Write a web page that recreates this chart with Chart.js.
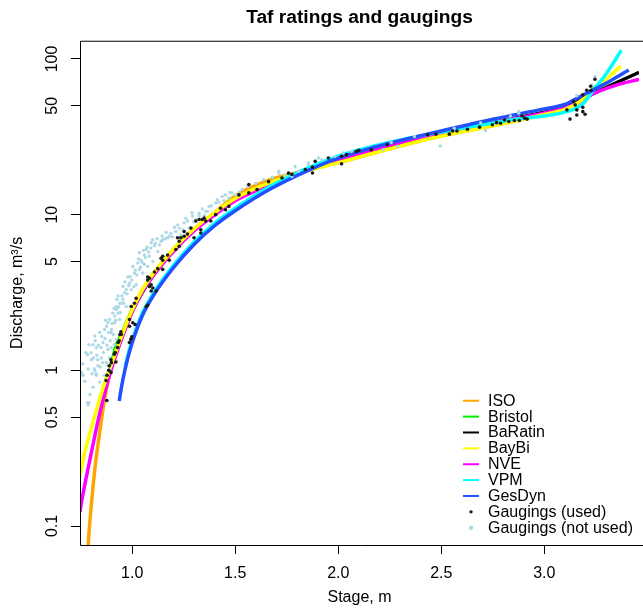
<!DOCTYPE html>
<html>
<head>
<meta charset="utf-8">
<script src="https://cdn.jsdelivr.net/npm/chart.js@4.4.1/dist/chart.umd.min.js"></script>
<style>
  html, body { margin:0; padding:0; background:#fff; overflow:hidden; }
  canvas { display:block; }
</style>
</head>
<body>
<canvas id="chart" width="643" height="608" style="width:643px;height:608px"></canvas>
<script>
/* ---------- data ---------- */
const stageTicks     = [1.0, 1.5, 2.0, 2.5, 3.0];
const dischargeTicks = [0.1, 0.5, 1, 5, 10, 50, 100];

// ISO
const isoStage = [0.783,0.79,0.80,0.81,0.823,0.84,0.856,0.88,0.90,0.95,1.00,1.05,1.10,1.20,1.30,1.40,1.50,1.67,1.86,2.00,2.25,2.50,2.75,3.00,3.10];
const isoQ     = [0.065,0.09,0.13,0.18,0.26,0.38,0.54,0.82,1.08,1.70,2.45,3.3,4.15,6.0,8.1,10.3,13.2,16.8,19.4,21.6,26.5,32.0,37.3,44.0,47.5];
// Bristol
const bristolStage = [0.86,0.90,0.92,0.95,1.00,1.10,1.20,1.30,1.40,1.50,1.67,1.86,2.00,2.25,2.50,2.75,3.00,3.10,3.17,3.22,3.27];
const bristolQ     = [0.78,1.12,1.42,1.72,2.45,4.1,5.9,8.0,10.1,12.6,16.0,19.6,22.0,27.5,33.0,38.8,45.0,48.5,53.0,61.0,70.0];
// BaRatin
const baratinStage = [0.86,0.90,0.95,1.00,1.10,1.20,1.30,1.40,1.50,1.67,1.86,2.00,2.25,2.50,2.75,3.00,3.10,3.19,3.26,3.33,3.40,3.46];
const baratinQ     = [0.76,1.08,1.64,2.40,4.05,5.9,8.0,10.1,12.6,16.0,19.6,22.2,27.8,33.2,39.0,45.5,49.0,56.0,62.0,68.5,75.5,82.0];
// BayBi
const baybiStage = [0.746,0.77,0.80,0.83,0.86,0.90,0.95,1.00,1.05,1.10,1.20,1.30,1.40,1.50,1.67,1.86,2.00,2.25,2.50,2.75,2.88,3.00,3.10,3.17,3.25,3.32,3.37];
const baybiQ     = [0.21,0.30,0.42,0.58,0.78,1.10,1.68,2.45,3.3,4.15,6.0,8.1,10.3,12.7,16.1,19.3,21.6,26.5,32.0,37.3,40.5,44.0,47.5,53.0,65.0,78.0,90.0];
// NVE
const nveStage = [0.746,0.755,0.77,0.79,0.81,0.83,0.86,0.90,0.95,1.00,1.05,1.10,1.20,1.30,1.40,1.50,1.67,1.86,2.00,2.25,2.50,2.75,3.00,3.10,3.17,3.24,3.35,3.46];
const nveQ     = [0.123,0.145,0.185,0.25,0.335,0.45,0.66,1.03,1.61,2.38,3.2,4.02,5.8,7.85,9.95,12.3,15.6,19.8,22.4,28.0,33.5,39.0,45.0,48.5,53.0,60.0,68.0,74.0];
// VPM
const vpmStage = [0.965,0.985,1.01,1.05,1.108,1.20,1.30,1.40,1.50,1.67,1.86,2.00,2.25,2.50,2.75,2.88,3.00,3.08,3.155,3.19,3.25,3.30,3.374];
const vpmQ     = [1.05,1.34,1.71,2.34,3.2,4.72,6.67,8.8,11.0,15.2,20.1,23.8,29.2,34.0,38.8,41.3,43.0,44.9,48.3,52.0,66.0,80.0,114.0];
// GesDyn
const gesdynStage = [0.937,0.95,0.965,0.985,1.01,1.05,1.108,1.20,1.30,1.40,1.50,1.67,1.86,2.00,2.25,2.50,2.75,3.00,3.10,3.17,3.25,3.33,3.41];
const gesdynQ     = [0.636,0.81,1.01,1.29,1.65,2.26,3.1,4.56,6.44,8.49,10.6,14.6,19.4,23.1,28.8,34.5,41.0,47.8,51.0,57.0,64.5,73.5,85.0];

// gaugings (used)
const usedStage = [0.877,0.873,0.878,0.886,0.897,0.889,0.897,0.899,0.913,0.918,0.921,0.929,0.932,0.937,0.940,0.945,0.947,0.986,0.993,0.998,
  0.987,0.987,1.003,1.014,0.995,1.011,1.019,1.068,1.075,1.092,1.100,1.116,1.084,1.092,1.075,1.084,1.075,1.108,1.124,1.148,
  1.140,1.148,1.148,1.172,1.180,1.212,1.228,1.228,1.220,1.236,1.252,1.268,1.300,1.333,1.252,1.285,1.309,1.325,1.340,1.349,
  1.333,1.357,1.381,1.405,1.429,1.453,1.469,1.518,1.566,1.566,1.606,1.662,1.727,1.759,1.775,1.840,1.875,1.875,1.888,1.952,
  2.016,2.016,2.040,2.088,2.100,2.160,2.238,2.434,2.474,2.539,2.555,2.576,2.627,2.686,2.748,2.768,2.788,2.807,2.828,2.855,
  2.879,2.892,2.905,2.917,3.110,3.125,3.142,3.150,3.158,3.158,3.187,3.187,3.198,3.187,3.206,3.225,3.227,3.246];
const usedQ = [0.64,0.86,0.93,1.00,0.97,1.07,1.17,1.12,1.27,1.30,1.13,1.40,1.51,1.55,1.70,1.77,1.70,1.51,1.58,1.64,
  1.92,2.12,2.02,1.97,2.57,2.70,2.90,2.57,2.63,3.23,3.38,3.23,3.46,3.55,3.80,3.90,3.98,4.28,4.50,4.45,
  5.25,5.10,5.40,5.50,5.10,5.97,6.27,6.75,7.10,7.10,7.26,7.50,7.10,7.62,7.80,8.20,9.10,9.30,9.30,9.50,
  8.00,9.10,9.10,10.0,11.0,10.75,11.3,13.4,15.6,13.8,14.5,16.3,17.2,18.5,18.1,19.5,20.2,18.5,22.0,23.1,
  23.7,21.2,24.3,25.5,25.9,26.1,28.1,32.6,32.9,32.9,34.5,34.5,35.4,36.5,37.8,39.0,38.7,40.6,39.7,40.3,
  40.3,43.0,41.7,41.1,47.1,41.1,53.3,50.7,47.1,43.7,49.0,45.9,44.2,58.8,63.0,66.8,63.0,74.1];

// gaugings (not used)
const notUsedStage = [0.754,0.762,0.786,0.790,0.810,0.826,0.818,0.834,0.842,0.875,0.858,0.826,0.890,0.906,0.923,0.939,0.850,0.875,0.890,0.866,
  0.842,0.802,0.790,0.818,0.786,0.809,0.784,0.849,0.857,0.833,0.817,0.824,0.784,0.749,0.897,0.913,0.897,0.882,0.899,0.915,
  0.931,0.947,0.931,0.963,0.955,0.987,0.979,1.011,1.003,1.027,1.043,1.059,1.035,1.068,1.108,1.124,1.092,1.140,1.172,1.188,
  1.212,1.236,0.882,0.890,0.923,0.971,0.939,0.995,1.019,1.051,1.075,1.100,1.180,1.228,1.252,1.276,1.260,1.309,1.325,1.357,
  1.373,1.405,1.437,1.469,1.502,1.148,1.083,1.059,1.035,0.971,0.955,0.923,0.915,0.882,0.866,1.413,1.453,1.485,1.534,1.638,
  1.711,1.775,1.807,1.855,1.919,1.984,2.024,1.325,1.292,1.365,1.711,1.791,1.855,1.904,2.064,2.217,2.257,2.289,2.370,2.495,
  2.563,2.691,2.715,2.836,2.876,2.876,3.158,3.230,3.246,
  0.760,0.770,0.775,0.795,0.800,0.805,0.812,0.820,0.828,0.836,0.845,0.852,0.860,0.868,0.870,0.878,0.885,0.893,0.902,0.908,
  0.912,0.920,0.926,0.934,0.942,0.950,0.958,0.965,0.975,0.983,0.990,0.998,1.008,1.015,1.022,1.030,1.040,1.048,1.055,1.064,
  1.072,1.080,1.090,1.098,1.112,1.120,1.132,1.145,1.160,1.165,1.195,1.205,1.220,1.245,1.268,1.290,1.300,1.340,1.350,1.385,
  1.420,1.445,1.475,1.520,1.560,1.600,1.680,1.740];
const notUsedQ = [0.97,0.93,0.60,0.62,0.78,0.93,1.00,1.07,1.75,1.92,1.51,1.40,2.12,2.33,2.57,2.70,1.20,1.12,1.02,0.93,
  0.84,1.17,1.46,1.66,1.02,1.46,1.26,1.40,1.12,1.17,1.02,0.95,0.62,0.93,1.40,1.46,1.75,1.36,1.83,2.02,
  2.33,2.70,3.00,3.15,3.46,3.63,3.98,4.22,4.65,4.90,5.10,5.50,5.70,5.97,6.30,5.80,6.60,6.75,7.10,7.60,
  7.80,7.40,1.07,1.20,1.58,2.57,2.12,3.30,3.55,4.22,4.65,5.00,7.26,8.20,8.85,8.20,9.50,9.30,9.80,10.5,
  11.3,11.9,13.1,12.8,13.4,6.90,5.40,4.80,4.44,3.30,2.86,2.46,2.23,2.02,1.83,12.5,13.4,13.8,14.5,16.8,
  18.5,17.6,19.0,20.9,22.5,23.7,24.9,10.2,9.8,10.5,19.0,20.4,21.5,23.1,25.5,26.1,29.1,27.4,31.8,27.6,
  35.9,39.0,34.7,43.0,44.9,46.0,58.0,68.0,77.3,
  1.10,0.85,1.30,0.70,1.30,0.95,1.20,1.55,1.25,1.45,1.05,1.65,1.30,1.60,2.10,1.45,1.75,1.55,2.00,1.70,
  2.50,2.10,2.85,2.55,2.35,3.00,2.70,3.70,3.10,3.50,4.00,3.80,3.45,4.40,4.10,5.20,4.60,4.95,5.90,5.30,
  6.20,5.75,6.10,6.90,6.55,7.00,6.40,7.30,7.00,7.70,7.20,8.30,8.60,8.00,9.10,10.3,9.00,10.9,9.9,11.4,
  12.0,12.3,13.9,14.0,15.2,15.9,17.4,18.0];

/* ---------- chart ---------- */
const FONT = "'Liberation Sans', Arial, Helvetica, sans-serif";
const pts = (h, q) => h.map((v, i) => ({ x: v, y: q[i] }));

// z: higher is painted first (further back)
const curves = [
  { label:"ISO",     color:"#FFA500", z:20,   data:pts(isoStage, isoQ) },
  { label:"Bristol", color:"#00EE00", z:19,   data:pts(bristolStage, bristolQ) },
  { label:"BaRatin", color:"#000000", z:18,   data:pts(baratinStage, baratinQ) },
  { label:"BayBi",   color:"#FFFF00", z:16,   data:pts(baybiStage, baybiQ) },
  { label:"NVE",     color:"#FF00FF", z:17,   data:pts(nveStage, nveQ) },
  { label:"VPM",     color:"#00FFFF", z:15,   data:pts(vpmStage, vpmQ) },
  { label:"GesDyn",  color:"#2250FF", z:14,   data:pts(gesdynStage, gesdynQ) },
];
const USED_COL = "#1a1a1a", NOTUSED_COL = "#ADD8E6";

const lineSets = curves.map(c => ({
  label:c.label, data:c.data, showLine:true, borderColor:c.color, borderWidth:3.5,
  pointRadius:0, cubicInterpolationMode:"monotone", clip:0, order:c.z,
}));

// frame box + legend (R style, bottom right, no box)
const frameAndLegend = {
  id:"frameAndLegend",
  afterDatasetsDraw(chart){
    const { ctx, chartArea:a } = chart;
    ctx.save();
    ctx.strokeStyle = "#000"; ctx.lineWidth = 1;
    ctx.beginPath();
    ctx.moveTo(chart.width, a.top + 0.5);
    ctx.lineTo(a.left + 0.5, a.top + 0.5);
    ctx.lineTo(a.left + 0.5, a.bottom + 0.5);
    ctx.lineTo(chart.width, a.bottom + 0.5);
    ctx.stroke();

    const rowH = 15.87, yLast = a.bottom - 17.3;
    const y0 = yLast - 8 * rowH;
    const lx0 = a.right - 176, lx1 = a.right - 160, tx = a.right - 151;
    ctx.font = `16px ${FONT}`; ctx.textBaseline = "middle"; ctx.textAlign = "left";
    curves.forEach((c, i) => {
      const y = y0 + i * rowH;
      ctx.strokeStyle = c.color; ctx.lineWidth = 2;
      ctx.beginPath(); ctx.moveTo(lx0, y); ctx.lineTo(lx1, y); ctx.stroke();
      ctx.fillStyle = "#000"; ctx.fillText(c.label, tx, y + 0.5);
    });
    const extra = [["Gaugings (used)", USED_COL, 1.7], ["Gaugings (not used)", NOTUSED_COL, 2.3]];
    extra.forEach(([t, col, r], k) => {
      const y = y0 + (7 + k) * rowH;
      ctx.fillStyle = col;
      ctx.beginPath(); ctx.arc((lx0 + lx1) / 2, y, r, 0, Math.PI * 2); ctx.fill();
      ctx.fillStyle = "#000"; ctx.fillText(t, tx, y + 0.5);
    });
    ctx.restore();
  }
};

new Chart(document.getElementById("chart"), {
  type:"scatter",
  data:{
    datasets:[
      ...lineSets,
      { label:"Gaugings (not used)", data:pts(notUsedStage, notUsedQ), backgroundColor:NOTUSED_COL,
        pointRadius:1.7, pointBorderWidth:0, order:2 },
      { label:"Gaugings (used)", data:pts(usedStage, usedQ), backgroundColor:USED_COL,
        pointRadius:1.8, pointBorderWidth:0, order:1 },
    ],
  },
  options:{
    responsive:false, animation:false,
    layout:{ padding:0 },
    plugins:{
      legend:{ display:false },
      tooltip:{ enabled:false },
      title:{
        display:true, text:"Taf ratings and gaugings", fullSize:false, color:"#000",
        font:{ family:FONT, size:19.2, weight:"bold" }, padding:{ top:6, bottom:11.7 },
      },
    },
    scales:{
      x:{
        type:"linear", min:0.7465, max:3.4598, bounds:"data",
        afterBuildTicks:s => { s.ticks = stageTicks.map(v => ({ value:v })); },
        afterFit:s => { s.height = 63; s.paddingLeft = 0; s.paddingRight = 0; },
        ticks:{ color:"#000", font:{ family:FONT, size:16 }, padding:10, maxRotation:0, autoSkip:false,
          callback:v => Number(v).toFixed(1) },
        grid:{ display:true, drawOnChartArea:false, drawTicks:true, tickLength:9, tickColor:"#000" },
        border:{ display:false },
        title:{ display:true, text:"Stage, m", color:"#000", font:{ family:FONT, size:16 }, padding:{ top:0, bottom:1 } },
      },
      y:{
        type:"logarithmic", min:0.0755, max:131, bounds:"data",
        afterBuildTicks:s => { s.ticks = dischargeTicks.map(v => ({ value:v })); },
        afterFit:s => { s.width = 80; s.paddingTop = 0; s.paddingBottom = 0; },
        ticks:{ color:"#000", font:{ family:FONT, size:16 }, padding:5, minRotation:90, maxRotation:90,
          crossAlign:"center", autoSkip:false, callback:v => String(v) },
        grid:{ display:true, drawOnChartArea:false, drawTicks:true, tickLength:9, tickColor:"#000" },
        border:{ display:false },
        title:{ display:true, text:"Discharge, m³/s", color:"#000", font:{ family:FONT, size:16 }, padding:{ top:8, bottom:0 } },
      },
    },
  },
  plugins:[frameAndLegend],
});
</script>
</body>
</html>
